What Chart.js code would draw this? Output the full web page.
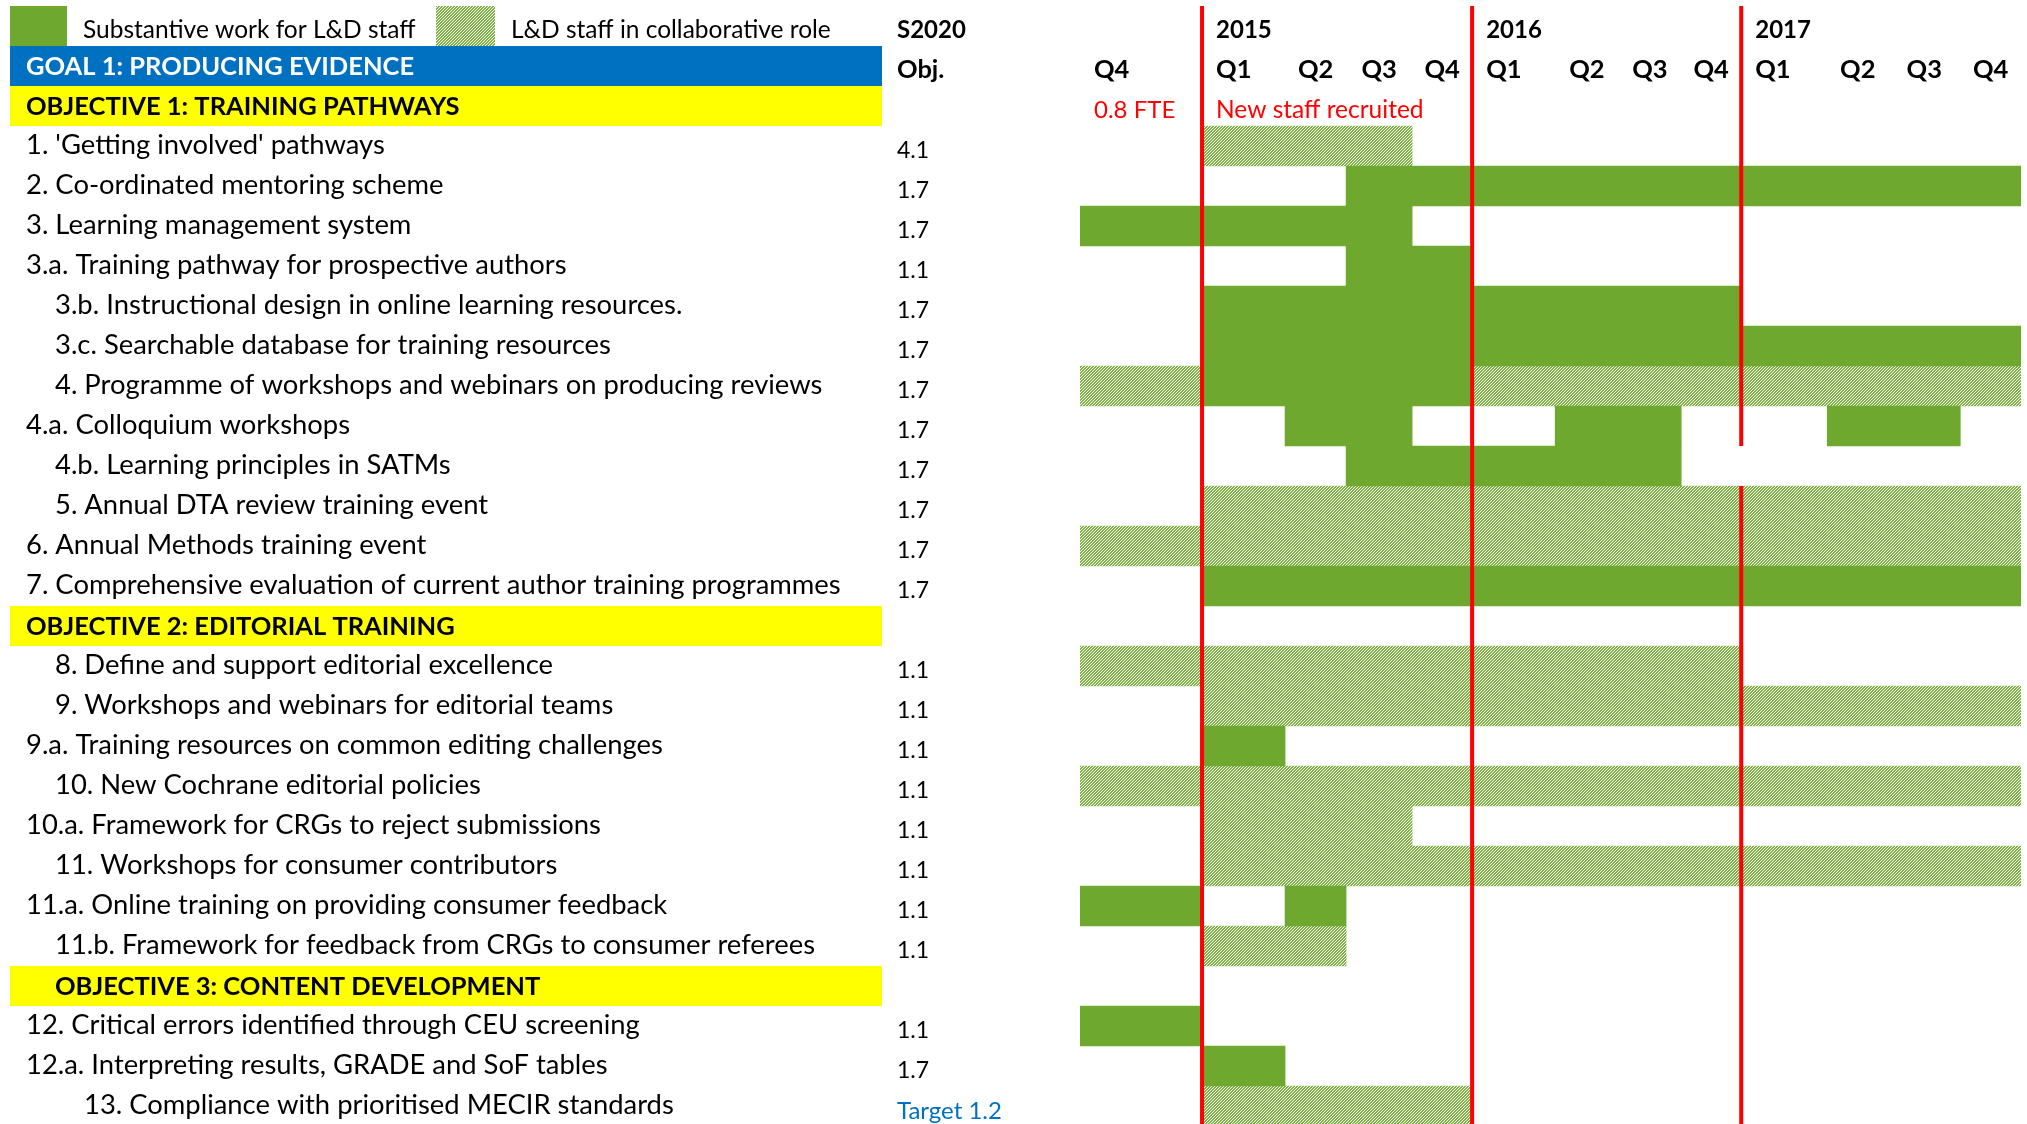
<!DOCTYPE html>
<html>
<head>
<meta charset="utf-8">
<title>L&amp;D workplan</title>
<script src="https://cdn.jsdelivr.net/npm/chart.js@4.4.1/dist/chart.umd.min.js"></script>
<style>
  html, body { margin: 0; padding: 0; background: #fff; overflow: hidden; }
</style>
</head>
<body>
<canvas id="gantt" width="2027" height="1126"></canvas>
<script>
/*  Data  */

const quarters = ['2014 Q4',
  '2015 Q1', '2015 Q2', '2015 Q3', '2015 Q4',
  '2016 Q1', '2016 Q2', '2016 Q3', '2016 Q4',
  '2017 Q1', '2017 Q2', '2017 Q3', '2017 Q4'];
const years = ['2015', '2016', '2017'];

const rowIds = ['top', 'goal1', 'obj1',
  '1', '2', '3', '3.a', '3.b', '3.c', '4', '4.a', '4.b', '5', '6', '7',
  'obj2', '8', '9', '9.a', '10', '10.a', '11', '11.a', '11.b',
  'obj3', '12', '12.a', '13'];

const rowText = ['', 'GOAL 1: PRODUCING EVIDENCE', 'OBJECTIVE 1: TRAINING PATHWAYS',
  "1. 'Getting involved' pathways",
  '2. Co-ordinated mentoring scheme',
  '3. Learning management system',
  '3.a. Training pathway for prospective authors',
  '3.b. Instructional design in online learning resources.',
  '3.c. Searchable database for training resources',
  '4. Programme of workshops and webinars on producing reviews',
  '4.a. Colloquium workshops',
  '4.b. Learning principles in SATMs',
  '5. Annual DTA review training event',
  '6. Annual Methods training event',
  '7. Comprehensive evaluation of current author training programmes',
  'OBJECTIVE 2: EDITORIAL TRAINING',
  '8. Define and support editorial excellence',
  '9. Workshops and webinars for editorial teams',
  '9.a. Training resources on common editing challenges',
  '10. New Cochrane editorial policies',
  '10.a. Framework for CRGs to reject submissions',
  '11. Workshops for consumer contributors',
  '11.a. Online training on providing consumer feedback',
  '11.b. Framework for feedback from CRGs to consumer referees',
  'OBJECTIVE 3: CONTENT DEVELOPMENT',
  '12. Critical errors identified through CEU screening',
  '12.a. Interpreting results, GRADE and SoF tables',
  '13. Compliance with prioritised MECIR standards'];

const s2020Obj = ['', '', '',
  '4.1', '1.7', '1.7', '1.1', '1.7', '1.7', '1.7', '1.7', '1.7', '1.7', '1.7', '1.7',
  '', '1.1', '1.1', '1.1', '1.1', '1.1', '1.1', '1.1', '1.1',
  '', '1.1', '1.7', 'Target 1.2'];

// [row, first quarter, last quarter]
const substantiveWork = [
  ['2', '2015 Q3', '2017 Q4'],
  ['3', '2014 Q4', '2015 Q3'],
  ['3.a', '2015 Q3', '2015 Q4'],
  ['3.b', '2015 Q1', '2016 Q4'],
  ['3.c', '2015 Q1', '2017 Q4'],
  ['4', '2015 Q1', '2015 Q4'],
  ['4.a', '2015 Q2', '2015 Q3'],
  ['4.a', '2016 Q2', '2016 Q3'],
  ['4.a', '2017 Q2', '2017 Q3'],
  ['4.b', '2015 Q3', '2016 Q3'],
  ['7', '2015 Q1', '2017 Q4'],
  ['9.a', '2015 Q1', '2015 Q1'],
  ['11.a', '2014 Q4', '2014 Q4'],
  ['11.a', '2015 Q2', '2015 Q2'],
  ['12', '2014 Q4', '2014 Q4'],
  ['12.a', '2015 Q1', '2015 Q1']
];

const collaborativeWork = [
  ['1', '2015 Q1', '2015 Q3'],
  ['4', '2014 Q4', '2014 Q4'],
  ['4', '2016 Q1', '2017 Q4'],
  ['5', '2015 Q1', '2017 Q4'],
  ['6', '2014 Q4', '2017 Q4'],
  ['8', '2014 Q4', '2016 Q4'],
  ['9', '2015 Q1', '2017 Q4'],
  ['10', '2014 Q4', '2017 Q4'],
  ['10.a', '2015 Q1', '2015 Q3'],
  ['11', '2015 Q1', '2017 Q4'],
  ['11.b', '2015 Q1', '2015 Q2'],
  ['13', '2015 Q1', '2015 Q4']
];

/*  Layout  */

// widths of the quarter columns, as in the spreadsheet
const colWidths = [122, 83, 61, 66, 60, 83, 63.5, 62.5, 60, 86, 61, 72, 60.7];
const indentLevel = {'3.b': 1, '3.c': 1, '4': 1, '4.b': 1, '5': 1, '8': 1, '9': 1,
  '10': 1, '11': 1, '11.b': 1, 'obj3': 1, '13': 2};
const noLineRows = {'2017': ['4.b']};

const FONT = 'Lato, "Liberation Sans", sans-serif';
const GREEN = '#6EA82F';
const RED = '#FF0000';
const BLUE = '#0070C0';
const YELLOW = '#FFFF00';

function makeHatch() {
	let c = document.createElement('canvas');
	c.width = 3;
	c.height = 3;
	let g = c.getContext('2d');
	g.fillStyle = '#fff';
	g.fillRect(0, 0, 3, 3);
	g.fillStyle = '#7DB242';
	for (let x = 0; x < 3; x++) {
		for (let y = 0; y < 3; y++) {
			if ((x + y) % 3 !== 2) g.fillRect(x, y, 1, 1);
		}
	}
	return g.createPattern(c, 'repeat');
}
const hatch = makeHatch();

/*  Scale with unequal column widths  */

class QuarterScale extends Chart.LinearScale {
	getPixelForValue(value) {
		if (value === null || isNaN(value)) return NaN;
		let total = colWidths.reduce((a, b) => a + b, 0);
		let v = Math.max(0, Math.min(colWidths.length, value));
		let i = Math.floor(v);
		let acc = 0;
		for (let k = 0; k < i && k < colWidths.length; k++) acc += colWidths[k];
		if (i < colWidths.length) acc += (v - i) * colWidths[i];
		return this.left + this.width * acc / total;
	}
	getValueForPixel(pixel) {
		let total = colWidths.reduce((a, b) => a + b, 0);
		let target = (pixel - this.left) / this.width * total;
		let acc = 0;
		for (let k = 0; k < colWidths.length; k++) {
			if (target <= acc + colWidths[k]) return k + (target - acc) / colWidths[k];
			acc += colWidths[k];
		}
		return colWidths.length;
	}
}
QuarterScale.id = 'quarter';
QuarterScale.defaults = Chart.LinearScale.defaults;
Chart.register(QuarterScale);

function toBars(list) {
	return list.map(s => ({
		y: s[0],
		x: [quarters.indexOf(s[1]), quarters.indexOf(s[2]) + 1]
	}));
}

/*  Everything outside the bars  */

const sheetPlugin = {
	id: 'sheet',
	afterDatasetsDraw(chart) {
		let ctx = chart.ctx;
		let xs = chart.scales.x;
		let ys = chart.scales.y;
		let half = (ys.bottom - ys.top) / rowIds.length / 2;
		ctx.save();
		ctx.fillStyle = RED;
		years.forEach(yr => {
			let x = xs.getPixelForValue(quarters.indexOf(yr + ' Q1'));
			let skip = (noLineRows[yr] || []).map(id => ys.getPixelForValue(rowIds.indexOf(id)));
			let y0 = ys.top;
			skip.forEach(c => {
				ctx.fillRect(x - 2, y0, 4, c - half - y0);
				y0 = c + half;
			});
			ctx.fillRect(x - 2, y0, 4, ys.bottom - y0);
		});
		ctx.restore();
	},
	afterDraw(chart) {
		let ctx = chart.ctx;
		let xs = chart.scales.x;
		let ys = chart.scales.y;
		let half = (ys.bottom - ys.top) / rowIds.length / 2;
		let rowMid = id => ys.getPixelForValue(rowIds.indexOf(id));
		let objX = 897;
		ctx.save();
		ctx.textBaseline = 'middle';

		/* legend row */
		let top = rowMid('top');
		ctx.fillStyle = GREEN;
		ctx.fillRect(10, top - half, 57, 2 * half);
		ctx.fillStyle = hatch;
		ctx.fillRect(436, top - half, 59, 2 * half);
		ctx.fillStyle = '#000';
		ctx.font = '24.5px ' + FONT;
		ctx.fillText('Substantive work for L&D staff', 83, top + 4);
		ctx.fillText('L&D staff in collaborative role', 511, top + 4);
		ctx.font = 'bold 24px ' + FONT;
		ctx.fillText('S2020', objX, top + 4);
		years.forEach(yr => {
			ctx.fillText(yr, xs.getPixelForValue(quarters.indexOf(yr + ' Q1')) + 14, top + 4);
		});

		/* quarter header */
		let qy = rowMid('goal1') + 4;
		ctx.font = 'bold 25.5px ' + FONT;
		ctx.fillText('Obj.', objX, qy);
		quarters.forEach((q, i) => {
			let label = q.split(' ')[1];
			if (i === 0 || label === 'Q1') {
				ctx.textAlign = 'left';
				ctx.fillText(label, xs.getPixelForValue(i) + 14, qy);
			} else {
				ctx.textAlign = 'center';
				ctx.fillText(label, xs.getPixelForValue(i + 0.5), qy);
			}
		});
		ctx.textAlign = 'left';

		/* staffing notes */
		let ny = rowMid('obj1') + 4;
		ctx.fillStyle = RED;
		ctx.font = '24px ' + FONT;
		ctx.fillText('0.8 FTE', xs.getPixelForValue(0) + 14, ny);
		ctx.font = '24.5px ' + FONT;
		ctx.fillText('New staff recruited', xs.getPixelForValue(1) + 14, ny);

		/* task list */
		rowIds.forEach((id, i) => {
			if (id === 'top') return;
			let mid = rowMid(id);
			let x = 26 + (indentLevel[id] || 0) * 29;
			if (id === 'goal1' || id.startsWith('obj')) {
				ctx.fillStyle = id === 'goal1' ? BLUE : YELLOW;
				ctx.fillRect(10, mid - half, 872, 2 * half);
				ctx.fillStyle = id === 'goal1' ? '#fff' : '#000';
				ctx.font = 'bold 25.5px ' + FONT;
				ctx.fillText(rowText[i], x, mid + 1);
				return;
			}
			ctx.fillStyle = '#000';
			ctx.font = '27.4px ' + FONT;
			ctx.fillText(rowText[i], x, mid - 1);
			let v = s2020Obj[i];
			ctx.fillStyle = v.startsWith('Target') ? BLUE : '#000';
			ctx.font = (v.startsWith('Target') ? '24px ' : '23px ') + FONT;
			ctx.fillText(v, objX, mid + 5);
		});
		ctx.restore();
	}
};

let ctxG = document.getElementById('gantt').getContext('2d');
let gantt = new Chart(ctxG, {
	type: 'bar',
	data: {
		labels: rowIds,
		datasets: [
			{
				label: 'Substantive work for L&D staff',
				data: toBars(substantiveWork),
				backgroundColor: GREEN,
				grouped: false,
				barPercentage: 1,
				categoryPercentage: 1,
				borderWidth: 0
			},
			{
				label: 'L&D staff in collaborative role',
				data: toBars(collaborativeWork),
				backgroundColor: hatch,
				grouped: false,
				barPercentage: 1,
				categoryPercentage: 1,
				borderWidth: 0
			}
		]
	},
	options: {
		indexAxis: 'y',
		responsive: false,
		animation: false,
		layout: {
			padding: {left: 1080, right: 6, top: 6, bottom: 0}
		},
		scales: {
			x: {type: 'quarter', min: 0, max: quarters.length, display: false, grid: {display: false}},
			y: {type: 'category', labels: rowIds, display: false, grid: {display: false}, offset: true}
		},
		plugins: {
			legend: {display: false},
			tooltip: {enabled: false}
		}
	},
	plugins: [sheetPlugin]
});
</script>
</body>
</html>
